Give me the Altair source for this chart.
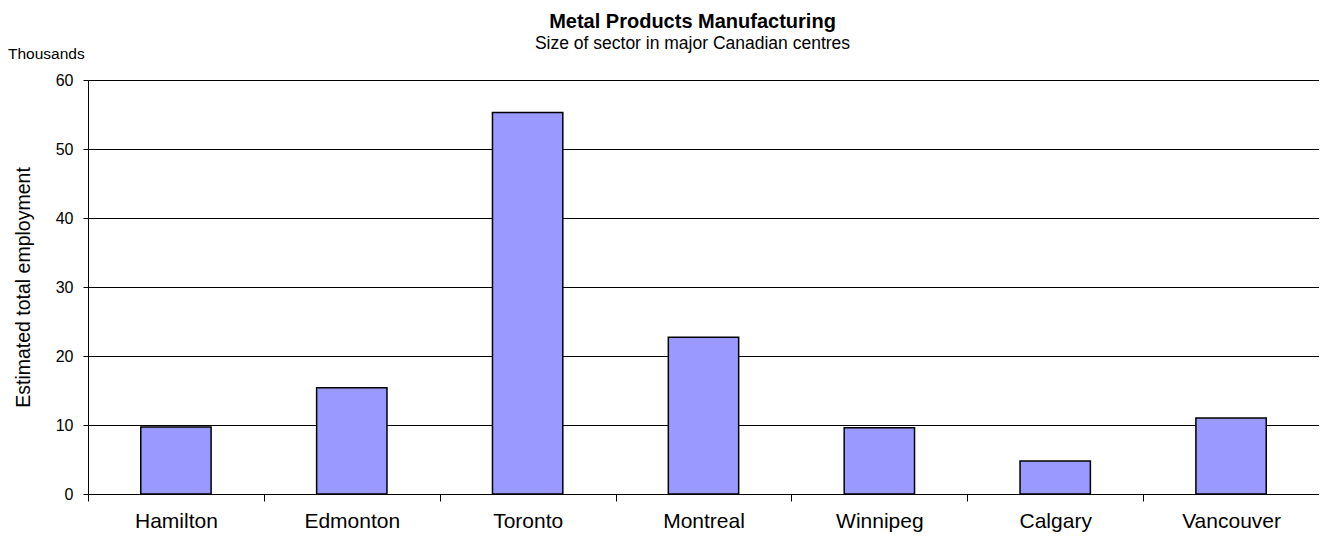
import altair as alt
import pandas as pd

cities = ["Hamilton", "Edmonton", "Toronto", "Montreal", "Winnipeg", "Calgary", "Vancouver"]
employment = [9.7, 15.4, 55.3, 22.7, 9.6, 4.8, 11.0]

df = pd.DataFrame({"city": cities, "value": employment})
FONT = "Liberation Sans"

bars = alt.Chart(df).mark_bar(
    color="#9999FF", stroke="#000000", strokeWidth=1.5,
    width=alt.RelativeBandSize(0.4)
).encode(
    x=alt.X("city:N", sort=cities,
            scale=alt.Scale(paddingInner=0, paddingOuter=0),
            axis=alt.Axis(title=None, labelAngle=0, labelFontSize=21, labelFont=FONT,
                          labelColor="#000", tickBand="extent", tickSize=7, tickColor="#000",
                          domainColor="#000", labelPadding=9, grid=False)),
    y=alt.Y("value:Q", scale=alt.Scale(domain=[0, 60]),
            axis=alt.Axis(title="Estimated total employment", values=[0, 10, 20, 30, 40, 50, 60],
                          titleFontSize=19.5, titleFont=FONT, titleFontWeight="normal",
                          titleColor="#000", titlePadding=22,
                          labelFontSize=16, labelFont=FONT, labelColor="#000",
                          tickSize=5, tickColor="#000", domainColor="#000",
                          labelPadding=10, grid=True, gridColor="#000", gridOpacity=1)),
)

thousands = alt.Chart(pd.DataFrame({"t": ["Thousands"]})).mark_text(
    font=FONT, fontSize=15.5, align="left", baseline="middle", color="#000"
).encode(text="t:N", x=alt.value(-80), y=alt.value(-26))

chart = alt.layer(bars, thousands).properties(
    width=1231, height=414,
    padding={"left": 80, "top": 72, "right": 0, "bottom": 39},
    autosize=alt.AutoSizeParams(type="none"),
    title=alt.TitleParams(
        text="Metal Products Manufacturing",
        subtitle="Size of sector in major Canadian centres",
        font=FONT, fontSize=20, fontWeight="bold", color="#000",
        subtitleFont=FONT, subtitleFontSize=17.5, subtitleColor="#000",
        subtitlePadding=3, anchor="middle", offset=0, dx=-11, dy=5,
    ),
).configure_view(stroke="#808080", strokeWidth=1)

chart.save("out.html", embed_options={"renderer": "svg", "actions": False})
